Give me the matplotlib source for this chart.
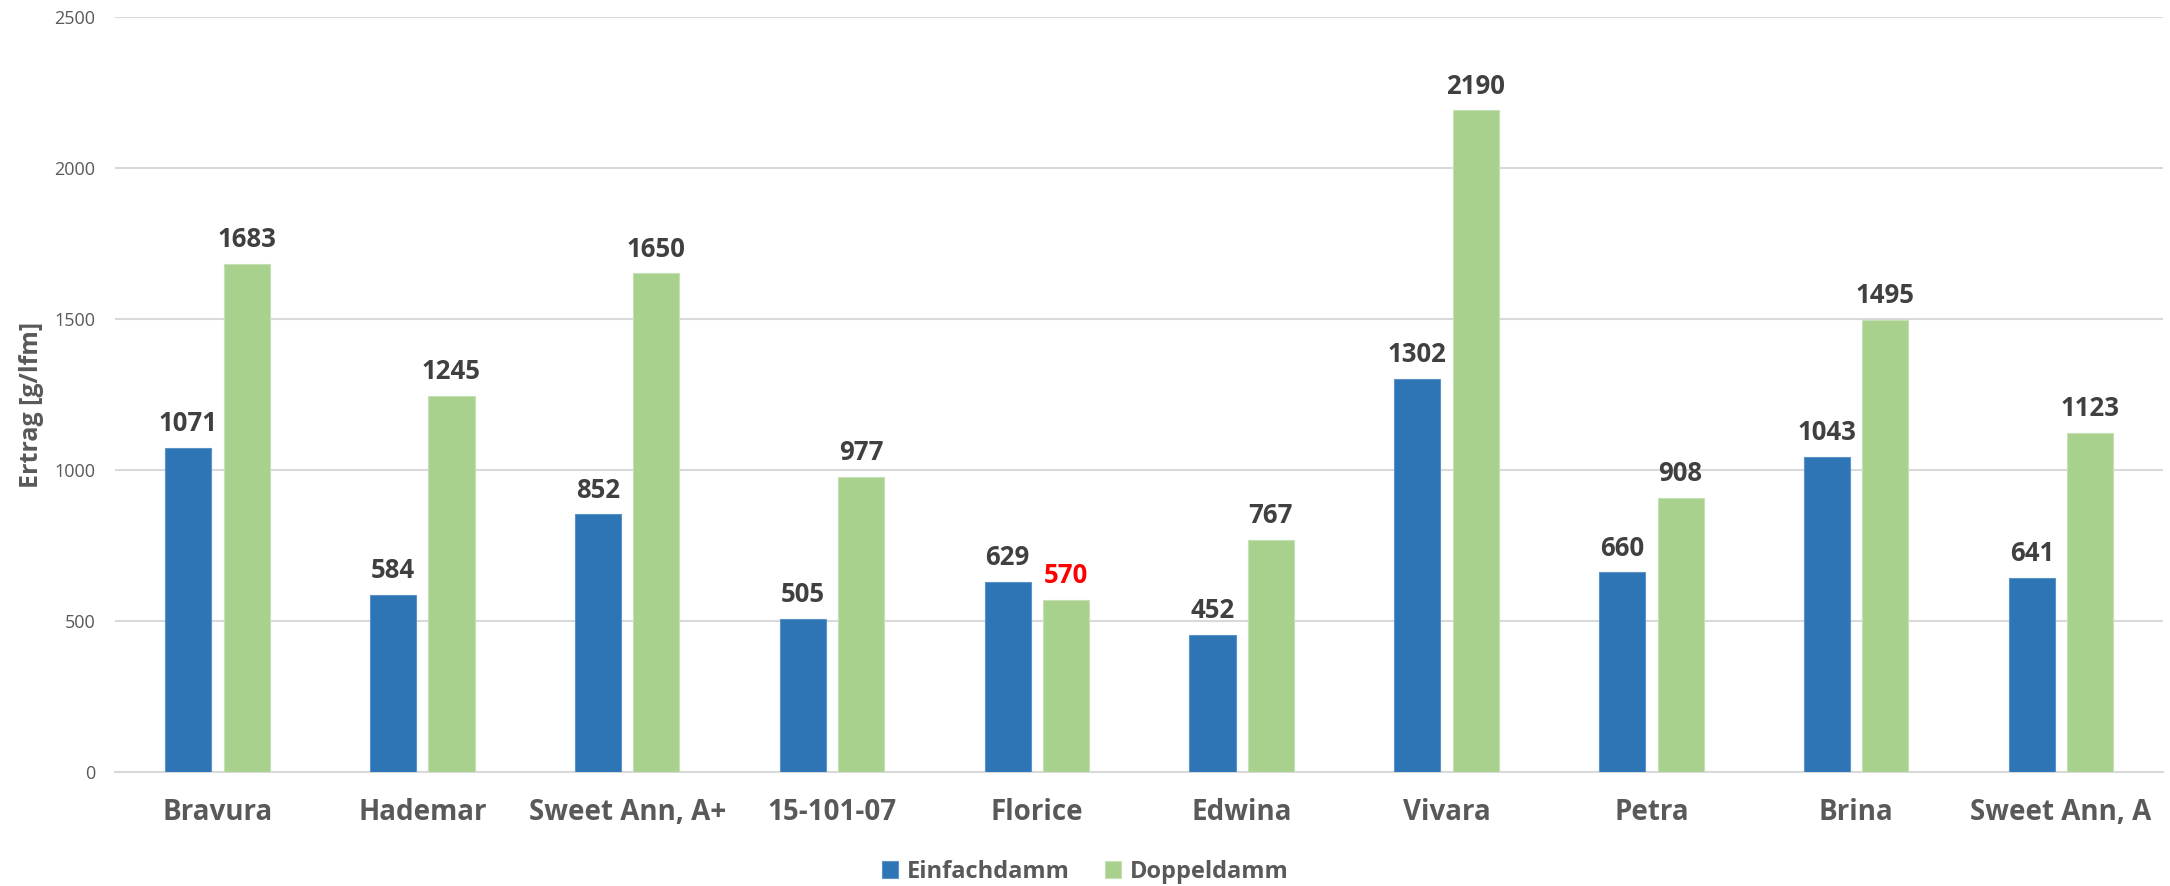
import matplotlib
matplotlib.use("Agg")
import matplotlib.pyplot as plt
import numpy as np

categories = ["Bravura", "Hademar", "Sweet Ann, A+", "15-101-07", "Florice",
              "Edwina", "Vivara", "Petra", "Brina", "Sweet Ann, A"]
einfachdamm = [1071, 584, 852, 505, 629, 452, 1302, 660, 1043, 641]
doppeldamm = [1683, 1245, 1650, 977, 570, 767, 2190, 908, 1495, 1123]
series_names = ["Einfachdamm", "Doppeldamm"]
y_ticks = [0, 500, 1000, 1500, 2000, 2500]

BLUE = "#2E75B6"
GREEN = "#A9D18E"
GRID = "#D9D9D9"
TEXT = "#595959"
LABEL = "#404040"
FONT = "Open Sans"

fig = plt.figure(figsize=(21.70, 8.86), dpi=100)
ax = fig.add_axes([0.053, 0.129, 0.944, 0.852])

x = np.arange(len(categories))
w = 0.225
off = 0.1425
b1 = ax.bar(x - off, einfachdamm, w, color=BLUE, edgecolor="#5B93C7", linewidth=0.8,
            label=series_names[0], zorder=3)
b2 = ax.bar(x + off, doppeldamm, w, color=GREEN, edgecolor="#C5E0B4", linewidth=0.8,
            label=series_names[1], zorder=3)

# value labels above each bar; a drop from single to double ridge is shown in red
for i in range(len(categories)):
    ax.text(x[i] - off, einfachdamm[i] + 56, f"{einfachdamm[i]}", ha="center", va="baseline",
            fontsize=18.5, fontweight="bold", color=LABEL, family=FONT)
    drop = doppeldamm[i] < einfachdamm[i]
    ax.text(x[i] + off, doppeldamm[i] + 56, f"{doppeldamm[i]}", ha="center", va="baseline",
            fontsize=18.5, fontweight="bold", color="#FF0000" if drop else LABEL,
            family=FONT)

ax.set_xlim(-0.5, len(categories) - 0.5)
ax.set_ylim(0, 2500)
ax.set_yticks(y_ticks)
ax.set_yticklabels([str(t) for t in y_ticks], fontsize=13, color=TEXT, family=FONT)
ax.set_xticks(x)
ax.set_xticklabels(categories, fontsize=20, fontweight="bold", color=TEXT, family=FONT)
ax.tick_params(axis="both", length=0)
ax.tick_params(axis="y", pad=14)
ax.tick_params(axis="x", pad=19)

ax.grid(axis="y", color=GRID, linewidth=1.5, zorder=0)
for s in ["top", "right", "left"]:
    ax.spines[s].set_visible(False)
ax.spines["bottom"].set_color(GRID)
ax.spines["bottom"].set_linewidth(1.5)

ax.set_ylabel("Ertrag [g/lfm]", fontsize=18, fontweight="bold", color=TEXT, family=FONT)
ax.yaxis.set_label_coords(-0.0347, 0.486)

leg = fig.legend(handles=[b1, b2], labels=series_names, loc="center",
                 bbox_to_anchor=(0.5, 0.0158), ncol=2, frameon=False,
                 prop={"family": FONT, "weight": "bold", "size": 17},
                 handlelength=0.7, handleheight=0.7, handletextpad=0.35,
                 columnspacing=1.5, borderpad=0, borderaxespad=0)
for t in leg.get_texts():
    t.set_color(TEXT)

fig.savefig("out.png", dpi=100, facecolor="white")
